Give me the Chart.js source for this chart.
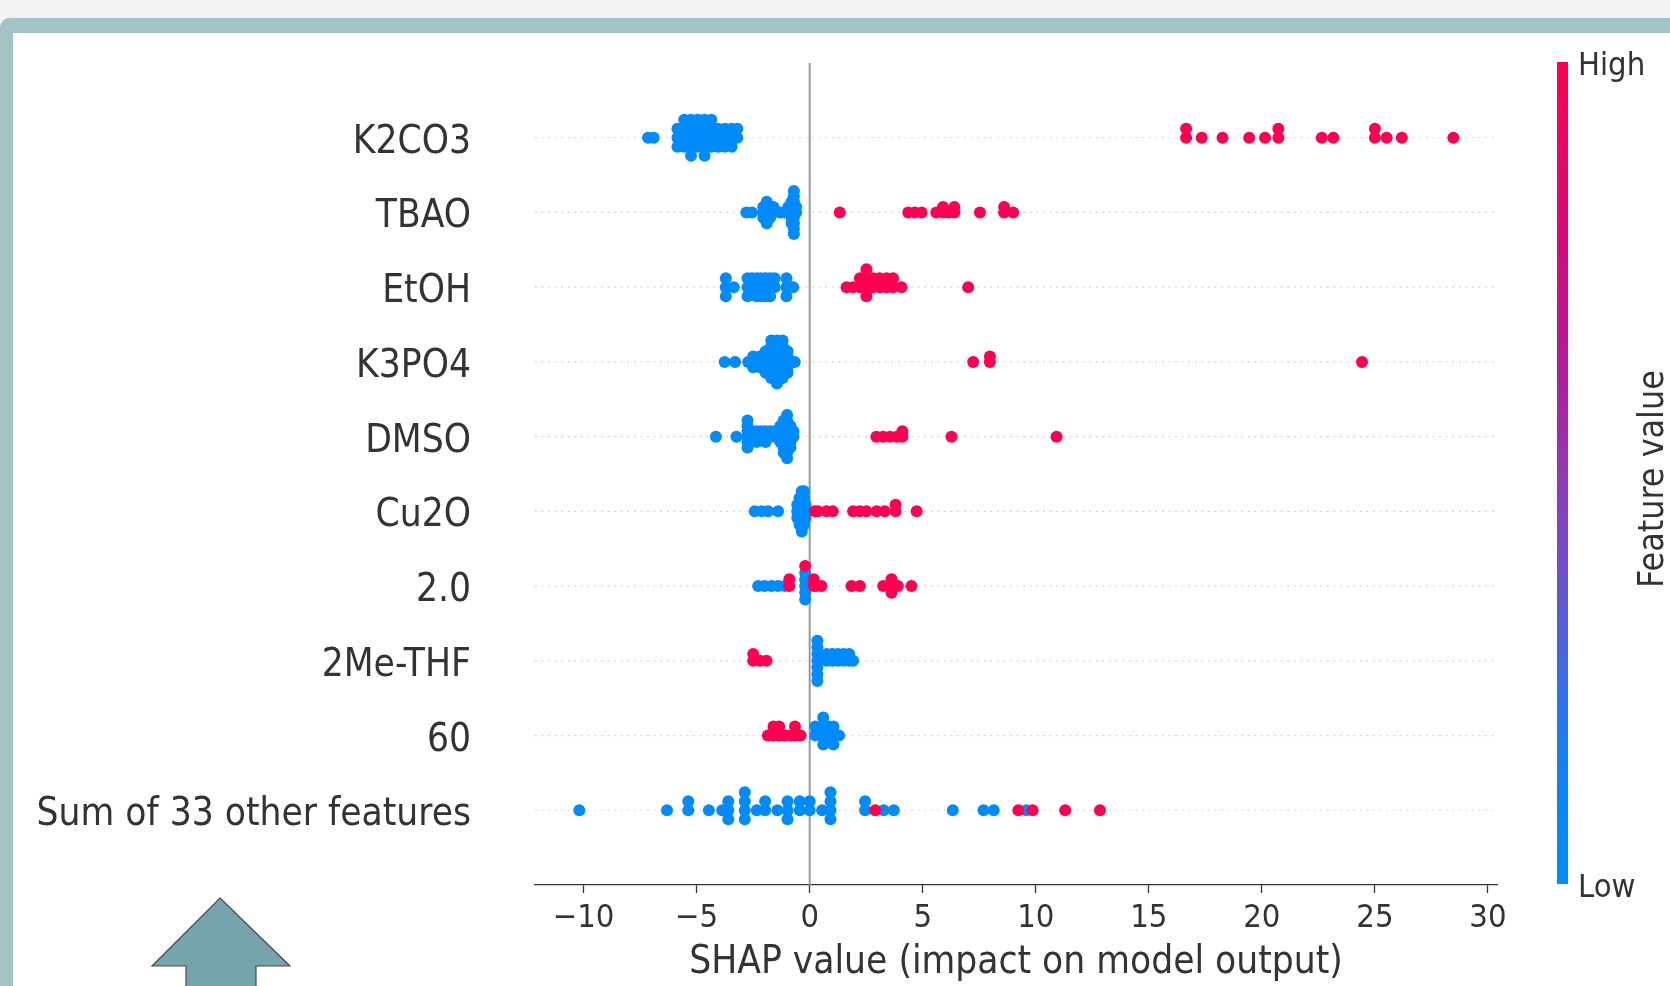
<!DOCTYPE html>
<html>
<head>
<meta charset="utf-8">
<title>SHAP summary</title>
<script src="https://cdn.jsdelivr.net/npm/chart.js@4.4.1/dist/chart.umd.min.js"></script>
<style>
  html, body { margin: 0; padding: 0; width: 1670px; height: 986px; overflow: hidden; background: #f2f2f2; }
  .frame {
    position: absolute; left: 0; top: 18px; width: 1700px; height: 1000px;
    box-sizing: border-box; background: #fff;
    border-top: 15px solid #a3c3c7; border-left: 13px solid #a3c3c7;
    border-top-left-radius: 10px;
  }
  .chart-box { position: absolute; left: 13px; top: 33px; width: 1657px; height: 953px; }
  .arrow { position: absolute; left: 0; top: 0; pointer-events: none; }
</style>
</head>
<body>
<div class="frame"></div>
<div class="chart-box"><canvas id="shapChart"></canvas></div>
<svg class="arrow" width="400" height="986">
  <polygon points="220,898 290,966 256,966 256,995 186,995 186,966 152,966"
           fill="#77a3ad" stroke="#4a4a4a" stroke-width="1.2" />
</svg>

<script>
// Features, top to bottom
const featureNames = ["K2CO3", "TBAO", "EtOH", "K3PO4", "DMSO", "Cu2O", "2.0", "2Me-THF", "60", "Sum of 33 other features"];

// x axis
const xTicks = [-10, -5, 0, 5, 10, 15, 20, 25, 30];
const xMin = -12.15;
const xMax = 30.4;
const colorbarLabels = ["Low", "High"];

// SHAP values, split by feature value (low = blue, high = red)
const k2co3Low = [-7.15, -6.9, -5.85, -5.85, -5.85, -5.55, -5.55, -5.55, -5.55, -5.25, -5.25, -5.25, -5.25, -5.25,
  -4.95, -4.95, -4.95, -4.95, -4.65, -4.65, -4.65, -4.65, -4.65, -4.35, -4.35, -4.35, -4.35,
  -4.05, -4.05, -4.05, -3.75, -3.75, -3.75, -3.45, -3.45, -3.45, -3.2, -3.2];
const k2co3High = [16.65, 16.65, 17.34, 18.26, 19.44, 20.14, 20.73, 20.73, 22.65, 23.16, 25.0, 25.0, 25.52, 26.19, 28.47];

const tbaoLow = [-2.8, -2.55, -2.05, -2.05, -2.05, -1.9, -1.9, -1.9, -1.9, -1.9, -1.75, -1.75, -1.75, -1.6, -1.6,
  -1.3, -1.1, -0.95, -0.95, -0.8, -0.8, -0.8, -0.8, -0.8,
  -0.7, -0.7, -0.7, -0.7, -0.7, -0.7, -0.7, -0.7, -0.7, -0.6, -0.6];
const tbaoHigh = [1.33, 4.36, 4.65, 4.95, 5.6, 5.9, 5.9, 6.15, 6.4, 6.4, 7.53, 8.6, 8.6, 9.0];

const etohLow = [-3.71, -3.71, -3.71, -3.36, -2.75, -2.75, -2.75, -2.55, -2.55, -2.35, -2.35, -2.35,
  -2.15, -2.15, -2.15, -1.95, -1.95, -1.95, -1.75, -1.75, -1.75, -1.55, -1.55, -1.03, -1.03, -1.03, -0.73];
const etohHigh = [1.63, 1.92, 2.22, 2.22, 2.51, 2.51, 2.51, 2.51, 2.8, 2.8, 3.1, 3.1, 3.4, 3.4, 3.69, 3.69, 4.06, 7.01];

const k3po4Low = [-3.76, -3.3, -2.72, -2.5, -2.5, -2.5, -2.2, -2.2, -2.2, -1.95, -1.95, -1.95, -1.95, -1.95,
  -1.7, -1.7, -1.7, -1.7, -1.7, -1.7, -1.7, -1.7,
  -1.45, -1.45, -1.45, -1.45, -1.45, -1.45, -1.45, -1.45, -1.45,
  -1.2, -1.2, -1.2, -1.2, -1.2, -1.2, -1.2, -1.2,
  -0.98, -0.98, -0.98, -0.98, -0.98, -0.66];
const k3po4High = [7.23, 7.97, 7.97, 24.43];

const dmsoLow = [-4.15, -3.24, -2.75, -2.75, -2.75, -2.75, -2.75, -2.75, -2.55, -2.55, -2.35, -2.35, -2.35,
  -2.15, -2.15, -1.95, -1.95, -1.95, -1.75, -1.75, -1.55, -1.55, -1.3, -1.3, -1.3, -1.3,
  -1.15, -1.15, -1.15, -1.15, -1.15, -1.15, -1.15,
  -1.0, -1.0, -1.0, -1.0, -1.0, -1.0, -1.0, -1.0, -1.0,
  -0.85, -0.85, -0.85, -0.85, -0.85, -0.72, -0.72];
const dmsoHigh = [2.95, 3.25, 3.55, 3.85, 4.1, 4.1, 6.27, 10.92];

const cu2oLow = [-2.43, -2.13, -1.84, -1.4, -0.55, -0.55, -0.55, -0.45, -0.45, -0.45, -0.45, -0.45,
  -0.35, -0.35, -0.35, -0.35, -0.35, -0.35, -0.35, -0.25, -0.25, -0.25, -0.25, -0.25, -0.25,
  -0.18, -0.18, -0.18];
const cu2oHigh = [0.23, 0.36, 0.74, 1.02, 1.92, 2.21, 2.51, 2.96, 3.32, 3.8, 3.8, 4.73];

const twoLow = [-2.28, -1.99, -1.69, -1.4, -1.1, -0.2, -0.2, -0.2, -0.2, -0.2, 0.3];
const twoHigh = [-0.9, -0.9, -0.2, 0.18, 0.18, 0.52, 1.85, 2.22, 3.25, 3.62, 3.62, 3.62, 3.9, 4.5];

const meThfLow = [0.34, 0.34, 0.34, 0.34, 0.34, 0.34, 0.34, 0.75, 0.75, 1.0, 1.0, 1.25, 1.25, 1.5, 1.5, 1.75, 1.75, 1.92];
const meThfHigh = [-2.5, -2.5, -2.2, -1.91];

const sixtyLow = [0.25, 0.25, 0.6, 0.6, 0.6, 0.6, 0.85, 0.85, 1.05, 1.05, 1.05, 1.3];
const sixtyHigh = [-1.85, -1.6, -1.6, -1.35, -1.35, -1.1, -0.85, -0.65, -0.65, -0.4];

const otherLow = [-10.19, -6.31, -5.37, -5.37, -4.46, -3.87, -3.6, -3.6, -3.6, -2.87, -2.87, -2.87, -2.87,
  -2.34, -1.97, -1.97, -1.43, -0.98, -0.98, -0.98, -0.44, -0.44, 0.0, 0.0, 0.55, 0.92, 0.92, 0.92, 0.92,
  2.45, 2.45, 3.27, 3.72, 6.33, 7.69, 8.14, 9.58];
const otherHigh = [2.9, 9.23, 9.86, 11.3, 12.84];

const lowShap = [k2co3Low, tbaoLow, etohLow, k3po4Low, dmsoLow, cu2oLow, twoLow, meThfLow, sixtyLow, otherLow];
const highShap = [k2co3High, tbaoHigh, etohHigh, k3po4High, dmsoHigh, cu2oHigh, twoHigh, meThfHigh, sixtyHigh, otherHigh];

// Styles
const FONT = "'DejaVu Sans Condensed', 'DejaVu Sans', sans-serif";
const TEXT = "#333333";
const BLUE = "#008bfb";
const RED = "#ff0051";
const ROW_HEIGHT = 0.4;
const colorbarStops = [
  [0.0, "#008bfb"], [0.12, "#0a84f6"], [0.22, "#2c74ea"], [0.35, "#6456d2"],
  [0.5, "#9438b6"], [0.62, "#b01c9e"], [0.78, "#d8087c"], [1.0, "#ff0051"]
];

// Beeswarm layout like shap: identical values stack, alternating up / down
function swarmRow(low, high, rowPos) {
  const pts = low.map((v) => ({ v, high: false })).concat(high.map((v) => ({ v, high: true })));
  pts.sort((a, b) => a.v - b.v);
  let layer = 0;
  let last = null;
  pts.forEach((p) => {
    if (p.v !== last) layer = 0;
    p.level = Math.ceil(layer / 2) * ((layer % 2) * 2 - 1);
    layer++;
    last = p.v;
  });
  const maxLevel = Math.max(...pts.map((p) => p.level));
  const step = (0.9 * ROW_HEIGHT) / (maxLevel + 1);
  return pts.map((p) => ({ x: p.v, y: rowPos + p.level * step, high: p.high }));
}

const nRows = featureNames.length;
const bluePoints = [];
const redPoints = [];
featureNames.forEach((name, i) => {
  swarmRow(lowShap[i], highShap[i], nRows - 1 - i).forEach((p) => {
    (p.high ? redPoints : bluePoints).push({ x: p.x, y: p.y });
  });
});

// dotted guide per feature row
const guideSets = featureNames.map((name, i) => ({
  data: [{ x: xMin, y: nRows - 1 - i }, { x: xMax, y: nRows - 1 - i }],
  showLine: true,
  borderColor: "#cdcdcd",
  borderWidth: 1.2,
  borderDash: [1.6, 5],
  pointRadius: 0,
  order: 20,
}));

// keep tick label overflow from pushing the plot area around
function noEdgePadding(s) {
  s.paddingTop = 0;
  s.paddingBottom = 0;
  s.paddingLeft = 0;
  s.paddingRight = 0;
}

const colorbarPlugin = {
  id: "colorbar",
  afterDraw(chart) {
    const { ctx, chartArea } = chart;
    const x = chartArea.right + 60;
    const grad = ctx.createLinearGradient(0, chartArea.bottom, 0, chartArea.top);
    colorbarStops.forEach(([t, c]) => grad.addColorStop(t, c));
    ctx.save();
    ctx.fillStyle = grad;
    ctx.fillRect(x, chartArea.top - 1, 11, chartArea.bottom - chartArea.top);
    ctx.translate(chart.width - 16, (chartArea.top + chartArea.bottom) / 2 + 5);
    ctx.rotate(-Math.PI / 2);
    ctx.fillStyle = TEXT;
    ctx.font = "35.5px " + FONT;
    ctx.textAlign = "center";
    ctx.textBaseline = "middle";
    ctx.fillText("Feature value", 0, 0);
    ctx.restore();
  },
};

new Chart(document.getElementById("shapChart"), {
  type: "scatter",
  data: {
    datasets: [
      ...guideSets,
      {
        data: [{ x: 0, y: -1 }, { x: 0, y: nRows }],
        showLine: true,
        borderColor: "#999999",
        borderWidth: 2,
        pointRadius: 0,
        order: 19,
      },
      { data: bluePoints, backgroundColor: BLUE, borderWidth: 0, pointRadius: 6, order: 2 },
      { data: redPoints, backgroundColor: RED, borderWidth: 0, pointRadius: 6, order: 1 },
    ],
  },
  options: {
    responsive: true,
    maintainAspectRatio: false,
    animation: false,
    devicePixelRatio: 1,
    layout: { padding: { top: 30, left: 0, right: 0, bottom: 0 } },
    plugins: { legend: { display: false }, tooltip: { enabled: false } },
    scales: {
      x: {
        type: "linear",
        min: xMin,
        max: xMax,
        afterBuildTicks: (s) => { s.ticks = xTicks.map((v) => ({ value: v })); },
        afterFit: (s) => { s.height = 101; noEdgePadding(s); },
        ticks: {
          autoSkip: false,
          maxRotation: 0,
          padding: 6,
          color: TEXT,
          font: { family: FONT, size: 32.5 },
          callback: (v) => (v < 0 ? "\u2212" + Math.abs(v) : String(v)),
        },
        grid: { drawOnChartArea: false, drawTicks: true, tickLength: 8, tickWidth: 1.3, tickColor: "#333333" },
        border: { display: true, color: "#333333", width: 1.3 },
        title: {
          display: true,
          text: "SHAP value (impact on model output)",
          color: TEXT,
          font: { family: FONT, size: 38.5 },
          padding: { top: 0, bottom: 0 },
        },
      },
      y: {
        type: "linear",
        position: "left",
        min: -1,
        max: nRows,
        afterBuildTicks: (s) => { s.ticks = featureNames.map((n, i) => ({ value: i })); },
        afterFit: (s) => { s.width = 522; noEdgePadding(s); },
        ticks: {
          autoSkip: false,
          padding: 64,
          labelOffset: 5,
          color: TEXT,
          font: { family: FONT, size: 38.5 },
          callback: (v) => featureNames[nRows - 1 - v],
        },
        grid: { display: false, drawTicks: false },
        border: { display: false },
      },
      y2: {
        type: "linear",
        position: "right",
        min: 0,
        max: 1,
        afterBuildTicks: (s) => { s.ticks = [{ value: 0 }, { value: 1 }]; },
        afterFit: (s) => { s.width = 173; noEdgePadding(s); },
        ticks: {
          autoSkip: false,
          padding: 81,
          labelOffset: 4,
          color: TEXT,
          font: { family: FONT, size: 32.5 },
          callback: (v) => colorbarLabels[v],
        },
        grid: { display: false, drawTicks: false },
        border: { display: false },
      },
    },
  },
  plugins: [colorbarPlugin],
});
</script>
</body>
</html>
